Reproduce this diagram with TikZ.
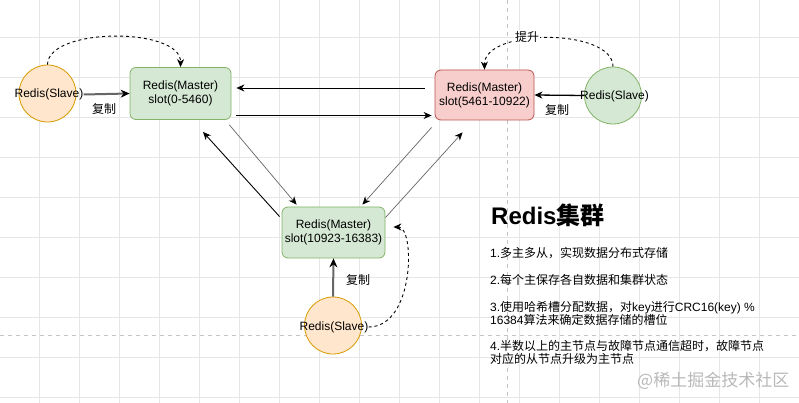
\documentclass[tikz,border=0pt]{standalone}
\usepackage{fontspec}
\setmainfont{Liberation Sans}
\newfontfamily\cjk{Noto Sans CJK SC}
\usetikzlibrary{arrows.meta}
\definecolor{gfill}{HTML}{D5E8D4}
\definecolor{gdraw}{HTML}{82B366}
\definecolor{ofill}{HTML}{FFE6CC}
\definecolor{odraw}{HTML}{D79B00}
\definecolor{rfill}{HTML}{F8CECC}
\definecolor{rdraw}{HTML}{B85450}
\definecolor{gridc}{HTML}{E6E6E6}
\definecolor{pagec}{HTML}{C4C4C4}
\definecolor{edgegray}{HTML}{666666}
\begin{document}
\begin{tikzpicture}[x=1pt,y=-1pt,
  master/.style={rectangle, rounded corners=6pt, line width=0.8pt, minimum width=101pt, minimum height=52pt, align=center, font=\fontsize{12}{14}\selectfont, inner sep=0pt},
  slavec/.style={circle, line width=0.8pt, minimum size=57pt, inner sep=0pt},
  lbl/.style={font=\fontsize{12}{14}\selectfont, inner sep=0pt},
  cjklbl/.style={font=\fontsize{12}{14}\selectfont\cjk, inner sep=0pt},
  txt/.style={anchor=base west, font=\fontsize{12}{14}\selectfont, inner sep=0pt},
  blk/.style={draw=black, line width=0.9pt, -{Stealth[length=8pt,width=7pt,inset=2.5pt]}},
  gry/.style={draw=edgegray, line width=0.7pt, -{Stealth[length=8pt,width=7pt,inset=2.5pt,black]}},
  rep/.style={draw=edgegray, line width=2pt, -{Stealth[length=9pt,width=8pt,inset=3pt,black]}},
  repb/.style={draw=black, line width=1.3pt, -{Stealth[length=8pt,width=7pt,inset=2.5pt]}},
  dsh/.style={draw=black, line width=0.9pt, dash pattern=on 3pt off 3pt, -{Stealth[length=8pt,width=7pt,inset=2.5pt]}},
  gridline/.style={draw=gridc, line width=0.6pt},
  pageline/.style={draw=pagec, line width=0.7pt, dash pattern=on 4pt off 4pt}
]
\useasboundingbox (0,0) rectangle (799,403);
\fill[white] (0,0) rectangle (799,403);
\foreach \i in {39,79,...,799} \draw[gridline] (\i,0) -- (\i,403);
\foreach \j in {37,77,...,397} \draw[gridline] (0,\j) -- (799,\j);
\draw[pageline] (507,0) -- (507,403);
\draw[pageline] (0,335.5) -- (799,335.5);

% masters
\node[master, fill=gfill, draw=gdraw] (m1) at (180.5,93.5) {Redis(Master)\\slot(0-5460)};
\node[master, fill=rfill, draw=rdraw, minimum width=99pt, minimum height=50pt] (m2) at (484.5,95) {Redis(Master)\\slot(5461-10922)};
\node[master, fill=gfill, draw=gdraw, minimum width=103pt, minimum height=51pt] (m3) at (333.5,232.5) {Redis(Master)\\slot(10923-16383)};

% slaves
\node[slavec, fill=ofill, draw=odraw] (s1) at (47.5,93.5) {};
\node[lbl] (s1t) at (49,94.5) {Redis(Slave)};
\node[slavec, fill=gfill, draw=gdraw] (s2) at (613,95.5) {};
\node[lbl] (s2t) at (614.5,96.5) {Redis(Slave)};
\node[slavec, fill=ofill, draw=odraw] (s3) at (333,325.5) {};
\node[lbl] (s3t) at (334,327) {Redis(Slave)};

% replication arrows
\draw[rep] (s1t.east) -- (m1.west);
\draw[repb] (s2.west) -- (m2.east);
\draw[rep] (s3.north) -- (m3.south);
\node[cjklbl] (c1) at (104,109) {复制};
\node[cjklbl] (c2) at (557,110) {复制};
\node[cjklbl] (c3) at (358,280) {复制};

% dashed curves
\draw[dsh] (s1.north) .. controls (48,27) and (181,27) .. (m1.north);
\draw[dsh] (s2.north) .. controls (613,28) and (484,28) .. (m2.north);
\node[cjklbl, fill=white, inner sep=1pt] (up) at (527,37) {提升};
\draw[dsh] (s3t.east) .. controls (415,327) and (415,227) .. ([xshift=8pt,yshift=5.5pt]m3.east);

% master links
\draw[blk] ([xshift=-10pt,yshift=7pt]m2.west) -- ([xshift=5pt,yshift=5.5pt]m1.east);
\draw[blk] ([xshift=5pt,yshift=-22pt]m1.east) -- ([xshift=-3pt,yshift=-20.5pt]m2.west);
\draw[blk] ([xshift=-2pt,yshift=-10pt]m3.north west) -- ([xshift=22.5pt,yshift=-12pt]m1.south);
\draw[gry] ([xshift=-2pt,yshift=-5pt]m1.south east) -- ([xshift=15pt,yshift=2pt]m3.north west);
\draw[gry] ([xshift=-3pt,yshift=-7pt]m2.south west) -- ([xshift=-23pt,yshift=2pt]m3.north east);
\draw[gry] ([yshift=-11pt]m3.north east) -- ([xshift=28pt,yshift=-12pt]m2.south west);

% text block
\node[anchor=base west, inner sep=0pt, font=\bfseries\fontsize{24}{28}\selectfont] (title) at (491,225) {Redis{\cjk 集群}};
\node[txt] (t1) at (490,257) {1.{\cjk 多主多从，实现数据分布式存储}};
\node[txt] (t2) at (490,284) {2.{\cjk 每个主保存各自数据和集群状态}};
\node[txt] (t3a) at (490,311) {3.{\cjk 使用哈希槽分配数据，对}key{\cjk 进行}CRC16(key) \%};
\node[txt] (t3b) at (490,324) {16384{\cjk 算法来确定数据存储的槽位}};
\node[txt] (t4a) at (490,350) {4.{\cjk 半数以上的主节点与故障节点通信超时，故障节点}};
\node[txt] (t4b) at (490,363) {{\cjk 对应的从节点升级为主节点}};

\node[anchor=base west, inner sep=0pt, text=gray!55, font=\cjk\fontsize{17}{20}\selectfont] (wm) at (637,386) {@稀土掘金技术社区};
\end{tikzpicture}
\end{document}
